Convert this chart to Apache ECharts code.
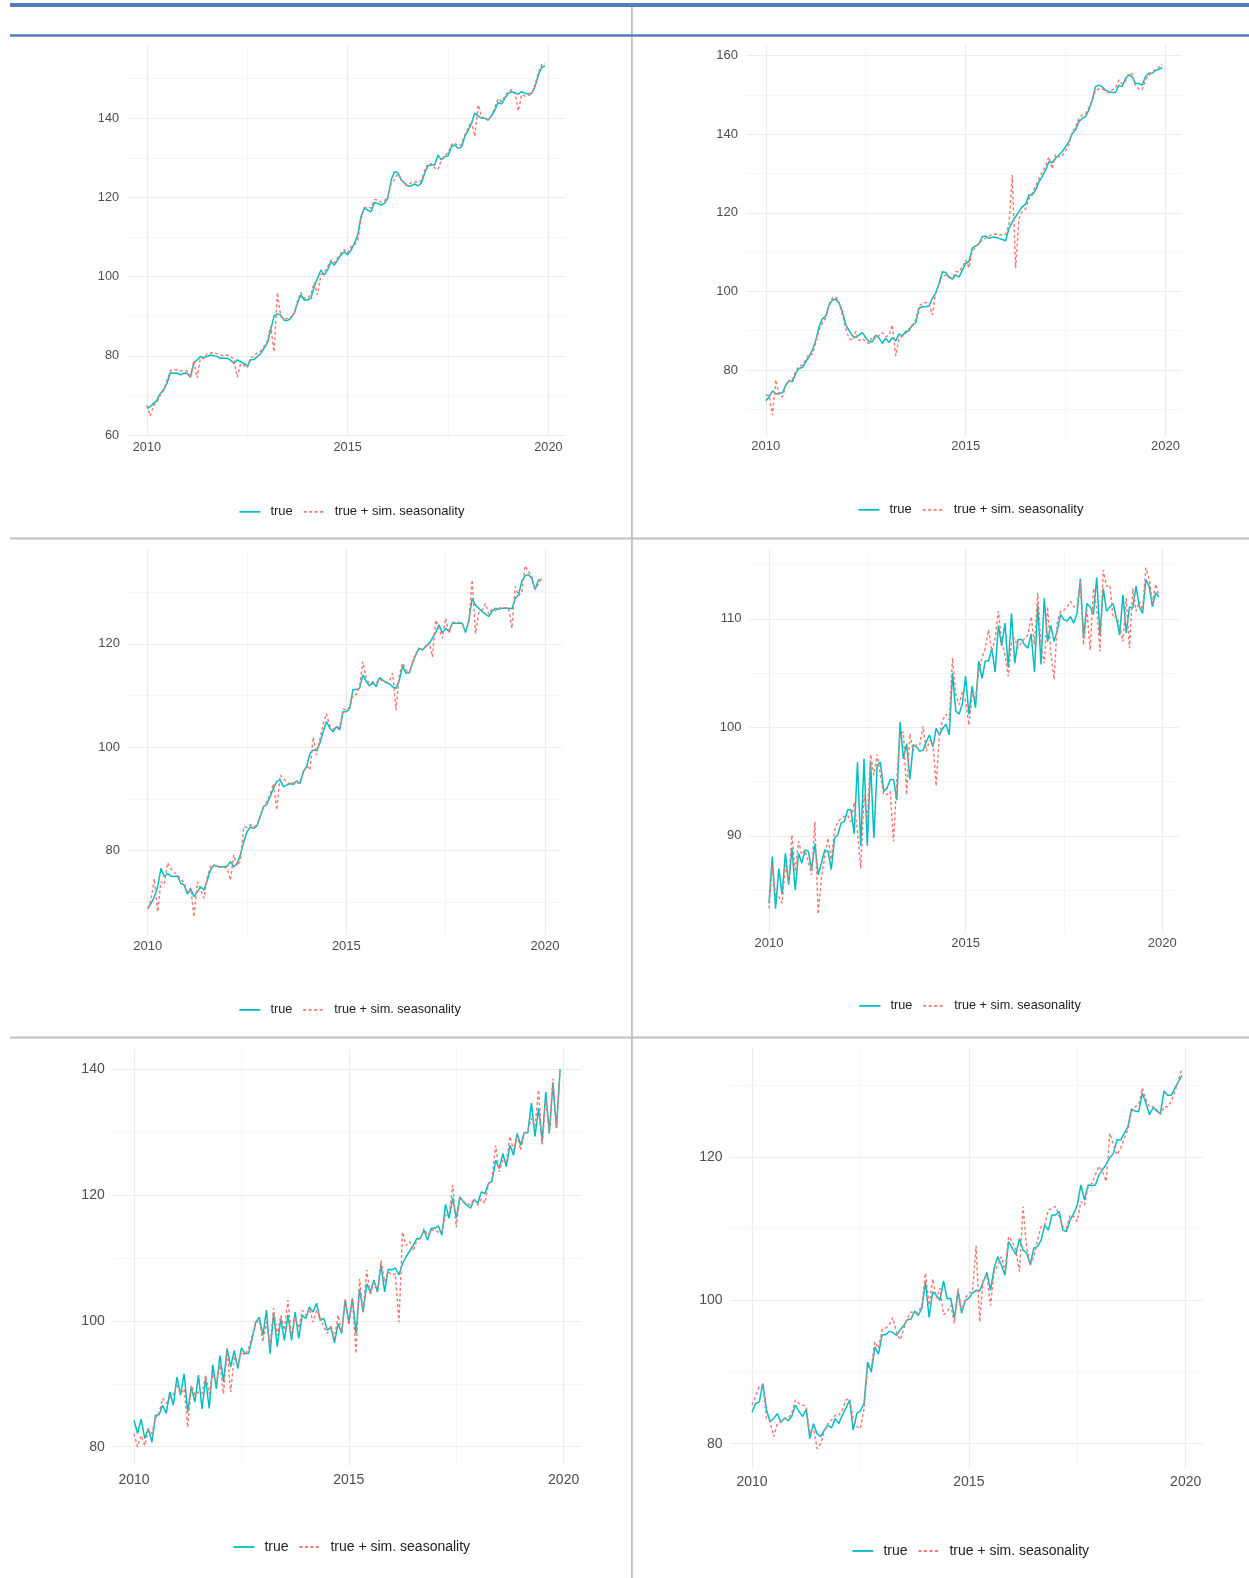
<!DOCTYPE html>
<html>
<head>
<meta charset="utf-8">
<script src="https://cdn.jsdelivr.net/npm/echarts@6/dist/echarts.min.js"></script>
<style>
  html, body { margin: 0; padding: 0; background: #ffffff; }
  #chart { width: 1249px; height: 1578px; }
</style>
</head>
<body>
<div id="chart"></div>
<script>
// ---- time axis: monthly observations 2010-01 .. 2019-12 ----
const years = [2010, 2011, 2012, 2013, 2014, 2015, 2016, 2017, 2018, 2019];
const monthPos = [];
years.forEach(y => { for (let m = 0; m < 12; m++) monthPos.push(y + m / 12); });

const xTickLabels = [2010, 2015, 2020];
const xMinorBreaks = [2012.5, 2017.5];
const seriesNames = ['true', 'true + sim. seasonality'];

// ---- panel 1 ----
const p1True = [
  66.7, 67.2, 68.0, 68.8, 70.5, 71.4, 73.1, 75.7, 75.6, 75.6, 75.2, 75.6,
  75.6, 74.6, 78.1, 79.0, 79.8, 79.6, 79.8, 80.2, 80.0, 79.8, 79.4, 79.4,
  79.4, 78.9, 78.1, 79.0, 78.5, 78.1, 77.4, 79.0, 79.1, 79.8, 80.6, 81.9,
  83.2, 86.5, 90.1, 90.6, 90.3, 89.0, 88.9, 89.5, 90.7, 93.3, 95.4, 94.1,
  94.1, 94.5, 97.5, 99.6, 101.7, 100.4, 101.7, 103.8, 102.9, 104.2, 105.5, 106.3,
  105.5, 106.7, 108.4, 110.5, 115.2, 117.3, 116.8, 116.4, 118.7, 118.5, 118.1, 118.5,
  119.8, 124.4, 126.5, 126.3, 124.4, 123.6, 122.9, 122.9, 123.4, 122.9, 123.6, 126.1,
  128.0, 128.2, 128.2, 130.7, 129.5, 130.3, 130.5, 132.8, 133.3, 132.4, 132.7, 135.4,
  136.9, 138.7, 141.3, 140.6, 140.0, 140.0, 139.6, 140.6, 142.1, 144.0, 143.6, 145.1,
  146.3, 146.7, 146.3, 146.1, 146.7, 146.3, 146.1, 146.3, 148.0, 150.9, 152.9, 153.2
];
const p1Seas = [
  67.5, 64.8, 67.5, 68.2, 70.2, 71.2, 73.8, 76.3, 76.5, 76.5, 76.2, 76.3,
  76.2, 74.5, 78.8, 74.4, 79.5, 79.3, 80.5, 80.7, 80.8, 80.5, 80.2, 80.0,
  80.2, 79.8, 79.2, 74.6, 78.0, 77.5, 77.0, 79.6, 79.8, 80.8, 81.2, 82.4,
  83.8, 87.5, 81.0, 96.0, 90.0, 89.3, 89.5, 89.8, 90.5, 93.8, 96.0, 94.6,
  94.5, 95.5, 98.5, 95.4, 100.5, 101.0, 102.5, 104.2, 103.5, 104.8, 106.0, 106.8,
  106.0, 107.5, 108.0, 109.2, 114.5, 117.5, 117.5, 117.3, 119.5, 119.3, 118.8, 119.2,
  120.2, 123.5, 124.5, 126.0, 124.8, 123.3, 123.0, 123.8, 124.0, 123.8, 124.2, 126.8,
  128.5, 128.5, 127.5, 127.0, 129.5, 130.5, 131.3, 133.3, 133.8, 133.0, 133.4, 135.8,
  137.5, 139.3, 135.4, 143.4, 140.5, 139.8, 139.5, 140.8, 142.8, 145.0, 144.2, 145.5,
  146.8, 147.2, 146.6, 141.8, 146.0, 145.6, 145.8, 146.0, 148.5, 151.5, 153.5, 154.0
];
const p1YLabels = [60, 80, 100, 120, 140];
const p1YMinor = [70, 90, 110, 130, 150];

// ---- panel 2 ----
const p2True = [
  72.2, 73.2, 74.7, 73.9, 74.1, 74.2, 76.2, 77.3, 77.0, 79.2, 80.4, 80.7,
  82.1, 83.4, 85.1, 87.6, 91.0, 93.1, 93.7, 96.5, 97.8, 98.0, 97.0, 94.8,
  91.5, 90.0, 88.7, 88.3, 88.9, 89.5, 88.2, 87.2, 87.2, 88.9, 88.1, 86.8,
  88.1, 87.0, 88.2, 87.4, 89.2, 88.7, 89.8, 90.0, 91.5, 92.0, 95.7, 96.1,
  96.1, 96.3, 98.2, 99.5, 102.0, 105.0, 104.8, 103.6, 103.1, 104.2, 103.6, 105.4,
  107.1, 107.6, 111.0, 111.6, 112.1, 113.9, 114.1, 113.5, 113.8, 113.8, 113.5, 113.2,
  112.9, 116.0, 117.7, 119.0, 120.3, 121.6, 122.2, 124.5, 124.5, 125.8, 127.9, 129.2,
  130.9, 133.0, 132.8, 133.9, 134.7, 135.6, 136.8, 138.1, 140.1, 141.1, 143.2, 144.0,
  144.5, 146.2, 148.7, 152.1, 152.5, 152.1, 151.2, 150.8, 150.6, 150.6, 152.5, 152.1,
  154.2, 155.1, 154.6, 152.9, 152.9, 152.5, 154.6, 155.5, 155.5, 156.2, 156.5, 156.9
];
const p2Seas = [
  73.6, 73.5, 68.5, 77.5, 73.5, 73.2, 76.0, 77.2, 77.5, 79.8, 81.0, 81.2,
  82.6, 84.0, 84.0, 87.0, 90.2, 92.0, 93.2, 96.8, 98.3, 98.6, 97.2, 94.0,
  90.5, 88.0, 87.5, 89.8, 87.5, 88.0, 87.2, 86.7, 88.5, 88.0, 88.8, 89.5,
  88.5, 88.8, 91.5, 83.6, 88.0, 88.6, 89.3, 90.5, 91.0, 92.8, 96.2, 97.0,
  97.2, 97.0, 94.0, 100.0, 101.5, 104.2, 104.0, 103.8, 103.3, 105.0, 105.0, 106.2,
  108.0, 106.0, 110.5, 111.0, 112.5, 113.0, 113.6, 114.0, 114.5, 114.6, 114.3, 114.5,
  114.5, 117.0, 129.6, 105.9, 118.5, 120.3, 121.0, 123.5, 125.0, 126.8, 128.7, 130.3,
  132.0, 134.2, 131.2, 134.9, 134.2, 134.5, 135.8, 137.3, 140.8, 141.8, 143.9, 145.0,
  145.2, 146.8, 148.3, 151.2, 151.5, 151.6, 151.0, 150.6, 151.3, 151.8, 153.8, 152.8,
  153.5, 155.5, 155.3, 152.3, 151.5, 151.3, 153.8, 155.0, 155.8, 156.5, 157.0, 157.9
];
const p2YLabels = [80, 100, 120, 140, 160];
const p2YMinor = [70, 90, 110, 130, 150];

// ---- panel 3 ----
const p3True = [
  68.8, 69.8, 71.1, 73.0, 76.6, 75.0, 75.6, 75.1, 75.0, 75.1, 73.7, 73.4,
  71.6, 72.6, 71.1, 72.1, 73.0, 72.4, 74.3, 76.3, 77.2, 77.0, 76.9, 76.9,
  77.0, 77.9, 76.9, 77.5, 79.2, 81.7, 83.7, 84.6, 84.3, 84.8, 86.6, 88.5,
  89.0, 90.5, 92.1, 93.4, 93.7, 92.4, 92.7, 93.0, 92.8, 93.5, 93.0, 95.3,
  96.3, 98.8, 99.5, 99.4, 100.8, 103.0, 105.0, 103.7, 103.0, 104.0, 103.4, 106.9,
  106.9, 107.5, 111.2, 111.2, 111.4, 114.0, 112.7, 111.9, 112.7, 111.7, 113.5, 113.0,
  112.5, 112.3, 111.7, 111.4, 113.0, 115.7, 114.3, 114.5, 116.3, 117.9, 119.2, 118.8,
  119.6, 120.0, 121.1, 122.2, 123.7, 122.1, 123.0, 122.4, 124.0, 124.0, 124.0, 124.0,
  122.2, 124.6, 128.8, 127.5, 126.9, 126.3, 125.8, 125.3, 126.3, 126.9, 126.7, 126.9,
  126.9, 126.9, 126.8, 128.8, 129.5, 132.1, 133.2, 133.4, 132.7, 130.5, 132.3, 132.5
];
const p3Seas = [
  68.8, 70.5, 74.6, 68.2, 74.0, 73.5, 77.7, 76.5, 75.8, 75.3, 74.5, 73.8,
  72.0, 72.8, 67.2, 74.0, 72.5, 70.8, 75.0, 77.0, 77.3, 76.8, 76.8, 76.8,
  76.6, 74.3, 79.2, 77.1, 78.0, 84.6, 84.5, 85.0, 84.5, 85.0, 86.8, 88.6,
  89.5, 91.0, 93.0, 87.9, 94.6, 94.0, 93.3, 92.8, 93.2, 92.9, 93.3, 95.0,
  96.5, 95.6, 102.0, 98.5, 101.5, 104.5, 106.5, 104.2, 103.5, 104.0, 103.8, 107.4,
  107.2, 107.8, 110.0, 110.2, 111.8, 116.6, 113.2, 112.3, 112.2, 112.5, 113.2, 112.8,
  112.6, 112.8, 114.3, 107.2, 114.0, 116.3, 115.0, 114.2, 116.5, 118.2, 119.0, 119.0,
  119.4, 120.3, 117.5, 124.6, 123.0, 121.1, 125.0, 122.0, 124.2, 124.2, 124.2, 123.9,
  122.5, 124.0, 132.4, 122.0, 126.0, 126.5, 127.8, 125.8, 126.7, 126.4, 127.0, 126.9,
  127.0, 127.0, 123.0, 131.1, 129.3, 130.0, 135.1, 134.0, 133.0, 130.6, 131.5, 133.0
];
const p3YLabels = [80, 100, 120];
const p3YMinor = [70, 90, 110, 130];

// ---- panel 4 ----
const p4True = [
  83.8, 88.1, 83.3, 87.0, 84.6, 88.4, 85.5, 88.9, 85.0, 88.4, 87.5, 88.7,
  88.6, 86.9, 89.3, 86.4, 87.5, 88.7, 88.6, 86.9, 89.8, 90.1, 91.2, 91.3,
  92.4, 92.4, 90.2, 96.8, 89.1, 97.1, 89.1, 96.8, 89.8, 96.5, 96.8, 94.1,
  94.4, 95.2, 95.2, 93.3, 100.5, 97.1, 98.5, 95.2, 98.4, 98.2, 97.8, 97.9,
  98.7, 99.3, 98.2, 99.9, 99.3, 99.9, 100.3, 99.3, 105.0, 101.5, 101.2, 102.2,
  104.7, 101.2, 103.8, 101.8, 106.1, 104.5, 106.1, 106.1, 107.3, 105.1, 109.4, 107.5,
  109.6, 105.5, 110.5, 105.9, 108.1, 108.1, 107.6, 107.3, 108.6, 105.1, 111.3, 105.8,
  111.9, 107.9, 109.4, 107.9, 109.0, 110.4, 109.9, 109.8, 110.2, 109.6, 110.5, 113.7,
  108.2, 111.4, 111.1, 110.4, 113.8, 108.5, 112.8, 110.7, 111.1, 111.4, 110.1, 108.5,
  112.2, 108.7, 111.1, 111.0, 113.0, 111.1, 110.5, 113.6, 113.0, 111.1, 112.4, 112.0
];
const p4Seas = [
  83.3, 87.3, 84.5, 84.4, 83.8, 87.3, 85.8, 90.1, 86.7, 89.5, 88.3, 88.7,
  87.6, 86.4, 91.3, 82.8, 86.1, 88.1, 89.8, 87.8, 90.5, 91.3, 91.6, 91.8,
  91.9, 91.3, 93.1, 90.4, 87.0, 93.8, 91.3, 97.5, 95.6, 97.5, 95.6, 93.8,
  93.8, 94.1, 89.5, 95.2, 99.3, 99.6, 93.8, 99.4, 97.8, 98.4, 98.4, 100.1,
  97.8, 98.8, 98.7, 94.6, 99.3, 100.7, 101.2, 100.7, 106.4, 103.0, 102.1, 103.3,
  102.4, 100.2, 103.0, 102.7, 105.1, 106.4, 107.3, 109.0, 107.0, 108.2, 110.7, 107.9,
  106.7, 104.7, 107.9, 108.2, 107.3, 107.8, 108.2, 108.5, 110.2, 107.6, 112.4, 107.6,
  105.9, 111.1, 106.9, 104.4, 109.8, 110.7, 110.8, 111.1, 111.6, 111.1, 111.1, 113.4,
  107.6, 110.8, 107.1, 112.8, 111.0, 107.0, 114.5, 113.0, 113.1, 110.1, 110.2, 109.4,
  107.9, 111.9, 107.3, 112.8, 110.7, 111.6, 110.8, 114.7, 113.7, 111.4, 113.2, 112.1
];
const p4YLabels = [90, 100, 110];
const p4YMinor = [85, 95, 105, 115];

// ---- panel 5 ----
const p5True = [
  84.2, 82.1, 84.4, 81.3, 82.9, 80.7, 85.0, 85.1, 86.6, 85.3, 88.7, 86.6,
  91.1, 88.2, 91.6, 85.5, 89.5, 87.1, 91.4, 86.0, 90.8, 86.1, 93.0, 89.2,
  94.5, 90.3, 95.6, 92.7, 95.3, 92.4, 95.7, 94.8, 94.8, 97.2, 99.8, 100.6,
  97.7, 101.7, 94.8, 101.2, 95.9, 100.3, 96.9, 100.9, 96.9, 101.4, 97.2, 100.9,
  100.4, 102.2, 101.4, 102.8, 100.1, 100.4, 98.5, 99.0, 96.5, 99.6, 98.0, 103.3,
  99.8, 103.6, 98.0, 105.1, 101.4, 105.9, 104.6, 106.5, 104.6, 108.9, 104.6, 108.2,
  108.1, 108.4, 107.3, 109.1, 110.2, 111.1, 112.0, 113.1, 113.1, 114.4, 112.8, 114.7,
  114.7, 115.1, 113.6, 118.5, 116.3, 119.6, 116.3, 119.7, 118.9, 118.4, 117.9, 119.3,
  118.7, 120.5, 120.2, 121.8, 122.2, 125.5, 124.2, 126.6, 124.5, 127.9, 126.3, 129.8,
  127.9, 129.9, 129.9, 134.6, 129.3, 133.8, 128.5, 136.4, 129.8, 137.7, 130.6, 140.0
];
const p5Seas = [
  82.1, 80.0, 81.8, 80.2, 82.6, 82.1, 84.5, 85.3, 87.7, 86.9, 87.7, 88.4,
  89.8, 88.4, 89.2, 83.1, 89.8, 88.2, 88.7, 88.4, 91.4, 88.4, 91.6, 90.3,
  93.0, 88.4, 95.6, 88.7, 94.3, 93.0, 95.1, 94.5, 95.6, 97.7, 99.6, 100.1,
  96.7, 99.8, 96.1, 102.0, 97.7, 100.9, 98.5, 103.3, 97.5, 100.6, 98.8, 101.7,
  100.9, 102.0, 99.8, 101.7, 100.6, 99.0, 98.0, 99.3, 97.2, 100.9, 98.3, 103.6,
  99.3, 103.6, 94.8, 106.7, 101.4, 108.1, 104.1, 106.2, 104.6, 109.6, 106.2, 107.8,
  107.3, 107.5, 99.8, 114.1, 112.0, 112.6, 111.2, 112.8, 113.1, 114.7, 113.6, 114.4,
  114.4, 114.1, 114.1, 116.8, 116.8, 121.6, 114.9, 119.4, 118.9, 118.7, 118.4, 119.4,
  118.4, 119.4, 118.7, 121.8, 122.6, 127.9, 123.7, 125.5, 125.3, 129.3, 127.1, 129.5,
  127.1, 129.8, 130.3, 132.2, 130.8, 136.7, 127.9, 135.3, 130.0, 138.5, 130.8, 139.6
];
const p5YLabels = [80, 100, 120, 140];
const p5YMinor = [90, 110, 130];

// ---- panel 6 ----
const p6True = [
  84.4, 85.6, 85.8, 88.4, 84.7, 83.1, 83.5, 84.2, 83.0, 83.6, 83.2, 83.8,
  85.4, 84.5, 83.8, 84.8, 80.7, 82.8, 81.4, 81.0, 81.9, 82.6, 82.2, 83.5,
  82.8, 84.0, 85.0, 86.1, 81.9, 84.2, 84.6, 85.6, 91.4, 90.0, 93.5, 92.5,
  95.2, 95.2, 95.7, 95.5, 95.1, 95.9, 96.5, 97.3, 97.4, 98.5, 97.9, 98.9,
  102.6, 97.6, 101.2, 100.7, 100.0, 102.7, 100.2, 100.3, 97.5, 101.2, 98.2, 100.0,
  100.3, 101.0, 101.4, 101.3, 102.6, 103.9, 101.4, 104.5, 106.1, 104.9, 103.5, 108.2,
  107.3, 106.4, 108.6, 107.0, 106.6, 105.0, 107.3, 107.5, 108.4, 110.5, 109.8, 111.9,
  111.9, 112.4, 109.8, 109.6, 111.2, 112.1, 113.3, 116.1, 114.0, 116.1, 116.0, 116.1,
  117.5, 118.2, 119.0, 119.9, 120.5, 122.4, 122.4, 123.3, 124.2, 126.7, 126.4, 126.3,
  128.9, 127.5, 125.9, 126.9, 126.4, 126.1, 129.2, 128.6, 128.6, 129.6, 130.5, 131.4
];
const p6Seas = [
  85.4, 86.6, 88.0, 88.2, 83.5, 83.1, 81.0, 82.8, 83.1, 83.5, 83.6, 84.2,
  86.1, 85.6, 85.4, 85.2, 81.4, 82.4, 79.3, 80.0, 81.7, 82.8, 83.3, 84.0,
  84.0, 84.7, 86.1, 86.3, 83.5, 82.4, 82.1, 84.9, 90.7, 90.6, 94.2, 93.3,
  95.9, 96.1, 96.6, 97.6, 95.4, 94.5, 96.1, 97.5, 98.4, 98.2, 98.4, 99.3,
  103.8, 99.3, 103.0, 100.3, 101.7, 98.0, 98.4, 99.3, 96.8, 101.7, 98.4, 100.3,
  101.0, 101.2, 107.6, 97.0, 103.0, 103.5, 99.3, 104.0, 104.9, 106.1, 104.0, 108.9,
  108.2, 107.0, 104.0, 113.1, 107.3, 104.9, 106.1, 108.4, 110.3, 110.5, 112.6, 112.8,
  113.1, 111.7, 110.3, 110.0, 111.9, 111.7, 111.0, 113.8, 113.3, 115.9, 116.3, 117.5,
  118.7, 118.0, 116.6, 123.3, 121.7, 120.3, 121.2, 122.6, 123.8, 126.3, 127.0, 127.3,
  129.6, 128.0, 127.0, 127.0, 126.6, 125.9, 127.0, 127.0, 127.7, 129.1, 130.7, 132.4
];
const p6YLabels = [80, 100, 120];
const p6YMinor = [90, 110, 130];

// ---- layout of the six panels (pixel boxes and axis extents) ----
const X_MIN = 2009.504, X_MAX = 2020.413;
const panels = [
  { t: p1True, s: p1Seas, yMin: 59.5,  yMax: 158.5, major: p1YLabels, minor: p1YMinor,
    grid: { left: 127,   top: 45,     width: 438,   height: 392 },   font: 12.7, xMargin: 4,
    legend: { left: 238.5, cy: 512.3, font: 13 } },
  { t: p2True, s: p2Seas, yMin: 62.95, yMax: 162.7, major: p2YLabels, minor: p2YMinor,
    grid: { left: 746,   top: 45,     width: 436,   height: 392 },   font: 13, xMargin: 3,
    legend: { left: 857.5, cy: 510.3, font: 13 } },
  { t: p3True, s: p3Seas, yMin: 63.7,  yMax: 138.3, major: p3YLabels, minor: p3YMinor,
    grid: { left: 128,   top: 549.3,  width: 433.4, height: 385.7 }, font: 13, xMargin: 5,
    legend: { left: 238.5, cy: 1010.4, font: 12.7 } },
  { t: p4True, s: p4Seas, yMin: 81.03, yMax: 116.4, major: p4YLabels, minor: p4YMinor,
    grid: { left: 749.5, top: 549.3,  width: 429,   height: 384 },   font: 13, xMargin: 4,
    legend: { left: 858.5, cy: 1006.4, font: 12.7 } },
  { t: p5True, s: p5Seas, yMin: 77.1,  yMax: 143.2, major: p5YLabels, minor: p5YMinor,
    grid: { left: 112.7, top: 1049,   width: 468.7, height: 416 },   font: 14, xMargin: 8,
    legend: { left: 232.5, cy: 1547, font: 14 } },
  { t: p6True, s: p6Seas, yMin: 76.5,  yMax: 135.3, major: p6YLabels, minor: p6YMinor,
    grid: { left: 730.5, top: 1047.3, width: 473.1, height: 421.5 }, font: 14, xMargin: 6.5,
    legend: { left: 851.5, cy: 1551, font: 14 } }
];

const FONT = '"Liberation Sans", Arial, sans-serif';
const TEAL = '#00BFC4';
const SALMON = '#F8766D';
const GRID_MAJOR = { color: '#EBEBEB', width: 1.2, type: 'solid' };
const GRID_MINOR = { color: '#F0F0F0', width: 0.7, type: 'solid' };

const grids = [], xAxes = [], yAxes = [], series = [], legends = [];

panels.forEach((p, k) => {
  grids.push(Object.assign({ containLabel: false }, p.grid));

  xAxes.push({
    type: 'value', gridIndex: k, min: X_MIN, max: X_MAX,
    axisLine: { show: false }, axisTick: { show: false }, splitLine: { show: false },
    axisLabel: {
      customValues: xTickLabels, color: '#4D4D4D', fontSize: p.font,
      fontFamily: FONT, margin: p.xMargin, formatter: v => String(Math.round(v))
    }
  });
  yAxes.push({
    type: 'value', gridIndex: k, min: p.yMin, max: p.yMax,
    axisLine: { show: false }, axisTick: { show: false }, splitLine: { show: false },
    axisLabel: {
      customValues: p.major, color: '#4D4D4D', fontSize: p.font,
      fontFamily: FONT, margin: 8, formatter: v => String(Math.round(v))
    }
  });

  // panel grid: minor lines first, then major
  const lines = [];
  p.minor.forEach(v => lines.push({ yAxis: v, lineStyle: GRID_MINOR }));
  xMinorBreaks.forEach(v => lines.push({ xAxis: v, lineStyle: GRID_MINOR }));
  p.major.forEach(v => lines.push({ yAxis: v, lineStyle: GRID_MAJOR }));
  xTickLabels.forEach(v => lines.push({ xAxis: v, lineStyle: GRID_MAJOR }));

  series.push({
    type: 'line', xAxisIndex: k, yAxisIndex: k, data: [], silent: true, z: 0,
    markLine: {
      silent: true, animation: false, z: 1, symbol: ['none', 'none'],
      label: { show: false }, emphasis: { disabled: true }, data: lines
    }
  });

  series.push({
    name: seriesNames[0], type: 'line', xAxisIndex: k, yAxisIndex: k,
    data: monthPos.map((x, i) => [x, p.t[i]]),
    symbol: 'none', silent: true, z: 3,
    lineStyle: { color: TEAL, width: 1.5 }, itemStyle: { color: TEAL }
  });
  series.push({
    name: seriesNames[1], type: 'line', xAxisIndex: k, yAxisIndex: k,
    data: monthPos.map((x, i) => [x, p.s[i]]),
    symbol: 'none', silent: true, z: 4,
    lineStyle: { color: SALMON, width: 1.4, type: [3, 2.5] }, itemStyle: { color: SALMON }
  });

  // legend keys are plain line samples (no point marker)
  legends.push({
    left: p.legend.left, top: p.legend.cy - 7, orient: 'horizontal', padding: 0,
    itemWidth: 21, itemHeight: 14, itemGap: 10, selectedMode: false,
    data: seriesNames,
    lineStyle: { width: 1.8 },
    itemStyle: { opacity: 0, borderWidth: 0 },
    textStyle: { fontSize: p.legend.font, color: '#222222', fontFamily: FONT, padding: [0, 0, 0, 5] }
  });
});

// table frame drawn round the panels
const BLUE = '#4F81BD', RULE = '#BFBFBF';
const graphics = [
  { type: 'rect', shape: { x: 10, y: 3, width: 1239, height: 4 }, style: { fill: BLUE }, silent: true, z: 10 },
  { type: 'rect', shape: { x: 10, y: 34.3, width: 1239, height: 2.4 }, style: { fill: BLUE }, silent: true, z: 10 },
  { type: 'rect', shape: { x: 631, y: 7, width: 1.8, height: 1571 }, style: { fill: RULE }, silent: true, z: 9 },
  { type: 'rect', shape: { x: 10, y: 537.6, width: 1239, height: 1.8 }, style: { fill: RULE }, silent: true, z: 9 },
  { type: 'rect', shape: { x: 10, y: 1036.6, width: 1239, height: 1.8 }, style: { fill: RULE }, silent: true, z: 9 }
];

const chart = echarts.init(document.getElementById('chart'), null, { renderer: 'canvas' });
chart.setOption({
  animation: false,
  backgroundColor: '#ffffff',
  grid: grids,
  xAxis: xAxes,
  yAxis: yAxes,
  legend: legends,
  series: series,
  graphic: graphics
});
</script>
</body>
</html>
